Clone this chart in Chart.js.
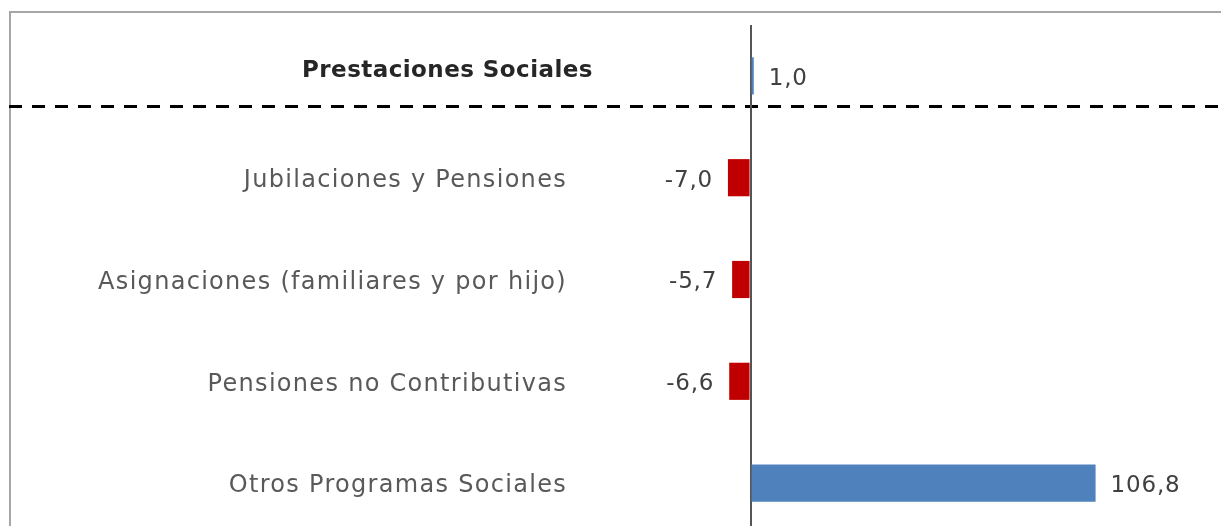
<!DOCTYPE html>
<html>
<head>
<meta charset="utf-8">
<script src="https://cdn.jsdelivr.net/npm/chart.js@4.4.1/dist/chart.umd.min.js"></script>
<style>
  html, body { margin: 0; padding: 0; background: #fff; overflow: hidden; }
  #wrap { position: relative; width: 1221px; height: 534px; }
</style>
</head>
<body>
<div id="wrap"><canvas id="grafico"></canvas></div>
<script>

// categorias y valores (variacion %)
let categorias = ['Prestaciones Sociales', 'Jubilaciones y Pensiones', 'Asignaciones (familiares y por hijo)', 'Pensiones no Contributivas', 'Otros Programas Sociales']

let valores = [1.0, -7.0, -5.7, -6.6, 106.8]

let etiquetas = ['1,0', '-7,0', '-5,7', '-6,6', '106,8']

const fuente = '"DejaVu Sans", sans-serif'

/*=============================================
MARCO Y LINEA PUNTEADA
=============================================*/

const marco = {
    id: 'marco',
    beforeDraw: (chart)=>{
        let ctx = chart.ctx
        let yScale = chart.scales.y
        ctx.save()
        ctx.fillStyle = '#fff'
        ctx.fillRect(0, 0, chart.width, chart.height)
        // borde gris
        ctx.strokeStyle = '#a6a6a6'
        ctx.lineWidth = 2
        ctx.beginPath()
        ctx.moveTo(10, chart.height + 5)
        ctx.lineTo(10, 12)
        ctx.lineTo(chart.width + 5, 12)
        ctx.stroke()
        // linea punteada bajo el total
        let y = Math.round(yScale.getPixelForValue(0) + 30)
        ctx.strokeStyle = '#000'
        ctx.lineWidth = 3
        ctx.setLineDash([13, 10])
        ctx.beginPath()
        ctx.moveTo(9, y + 0.5)
        ctx.lineTo(chart.width, y + 0.5)
        ctx.stroke()
        ctx.restore()
    },
    afterDatasetsDraw: (chart)=>{
        let ctx = chart.ctx
        let yScale = chart.scales.y
        let xScale = chart.scales.x
        let meta = chart.getDatasetMeta(0)
        ctx.save()
        ctx.textBaseline = 'middle'
        // nombres de categoria
        categorias.forEach((cat, i)=>{
            let y = yScale.getPixelForValue(i)
            ctx.textAlign = 'right'
            if (i == 0) {
                ctx.letterSpacing = '0.45px'
                ctx.font = 'bold 23px ' + fuente
                ctx.fillStyle = '#262626'
                ctx.fillText(cat, 593, y - 5)
            } else {
                ctx.letterSpacing = '1.3px'
                ctx.font = '24px ' + fuente
                ctx.fillStyle = '#595959'
                ctx.fillText(cat, 567, y + 3)
            }
        })
        // valores
        ctx.letterSpacing = '0.8px'
        ctx.font = '23px ' + fuente
        ctx.fillStyle = '#404040'
        meta.data.forEach((bar, i)=>{
            let v = valores[i]
            let x = xScale.getPixelForValue(v)
            if (v >= 0) {
                ctx.textAlign = 'left'
                ctx.fillText(etiquetas[i], x + 15, bar.y + 3)
            } else {
                ctx.textAlign = 'right'
                ctx.fillText(etiquetas[i], x - 15, bar.y + 3)
            }
        })
        ctx.restore()
    }
}

let config = {
    type: 'bar',
    data: {
        labels: categorias,
        datasets: [{
            data: valores,
            backgroundColor: valores.map(v => v >= 0 ? '#4f81bd' : '#c00000'),
            borderWidth: 0,
            categoryPercentage: 1,
            barPercentage: 0.365
        }]
    },
    options: {
        indexAxis: 'y',
        responsive: true,
        maintainAspectRatio: false,
        animation: false,
        layout: {
            padding: { left: 581, right: 2, top: 25, bottom: 0 }
        },
        plugins: {
            legend: { display: false },
            tooltip: { enabled: false }
        },
        scales: {
            x: {
                min: -50,
                max: 145,
                ticks: { display: false, stepSize: 5 },
                border: { display: false },
                grid: {
                    drawTicks: false,
                    lineWidth: 2,
                    color: (c)=> c.tick && c.tick.value === 0 ? '#555555' : 'rgba(0,0,0,0)'
                }
            },
            y: {
                ticks: { display: false },
                border: { display: false },
                grid: { display: false }
            }
        }
    },
    plugins: [marco]
}

let ctx = document.getElementById('grafico').getContext('2d')
window.miGrafico = new Chart(ctx, config)

</script>
</body>
</html>
